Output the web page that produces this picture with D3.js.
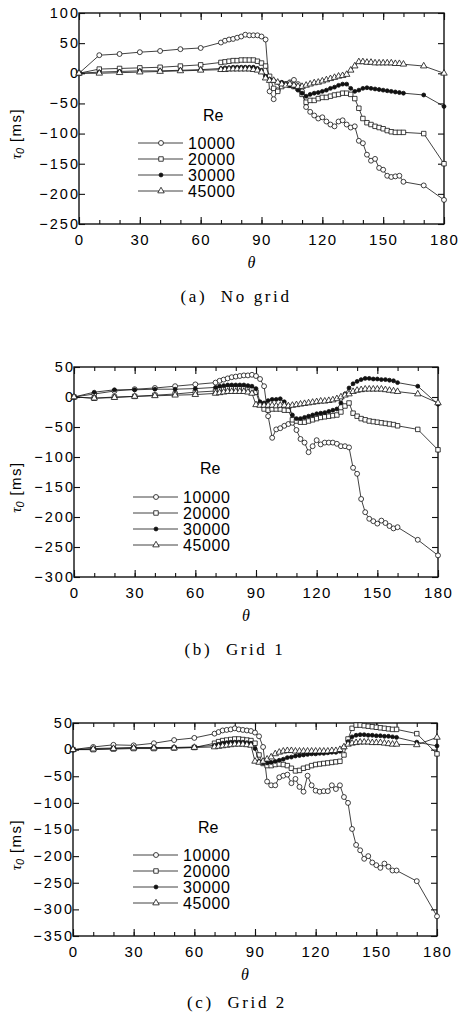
<!DOCTYPE html>
<html>
<head>
<meta charset="utf-8">
<script src="https://cdn.jsdelivr.net/npm/d3@7"></script>
<style>
  body { margin: 0; background: #fff; }
  svg text { font-family: "Liberation Sans", Arial, sans-serif; fill: #000; }
</style>
</head>
<body>
<svg id="fig" width="458" height="1016"></svg>
<script>
// angle (deg) shared by every curve
var theta = [0, 10, 20, 30, 40, 50, 60,
  70, 72, 74, 76, 78, 80, 82, 84, 86, 88,
  90, 92, 94, 96, 98, 100, 102, 104, 106, 108,
  110, 112, 114, 116, 118, 120, 122, 124, 126, 128,
  130, 132, 134, 136, 138, 140, 142, 144, 146, 148,
  150, 152, 154, 156, 158, 160, 170, 180];

var reLabels = ["10000", "20000", "30000", "45000"];

// (a) No grid
var noGrid10000 = [0, 30, 32, 35, 37, 40, 42,
  51, 54, 56, 57, 59, 61, 64, 63, 63, 63,
  61, 56, -30, -43, -28, -20, -18, -15, -11, -18,
  -30, -56, -64, -70, -75, -73, -80, -85, -88, -80,
  -78, -85, -90, -88, -112, -116, -135, -145, -142, -157,
  -160, -170, -172, -171, -170, -180, -186, -210];
var noGrid20000 = [0, 7, 8, 9, 10, 12, 14,
  18, 19, 20, 21, 21, 22, 22, 22, 22, 20,
  17, 12, -5, -25, -30, -22, -18, -20, -22, -25,
  -35, -48, -45, -45, -42, -40, -40, -38, -36, -35,
  -33, -33, -35, -42, -58, -75, -82, -85, -88, -90,
  -92, -95, -97, -98, -98, -98, -100, -150];
var noGrid30000 = [0, 2, 3, 4, 4, 5, 6,
  8, 9, 9, 10, 10, 10, 10, 10, 10, 8,
  5, -5, -10, -12, -15, -15, -18, -20, -22, -28,
  -33, -38, -35, -33, -32, -30, -28, -25, -23, -20,
  -18, -18, -25, -30, -28, -25, -24, -25, -26, -27,
  -28, -29, -30, -31, -32, -33, -36, -55];
var noGrid45000 = [0, 0, 1, 2, 3, 4, 5,
  6, 6, 7, 7, 7, 7, 7, 7, 6, 5,
  2, -8, -12, -12, -15, -18, -20, -18, -20, -22,
  -22, -20, -18, -16, -15, -13, -11, -9, -7, -5,
  -4, -2, 5, 12, 19, 19, 18, 18, 17, 17,
  17, 17, 17, 16, 16, 15, 12, 0];

// (b) Grid 1
var grid1_10000 = [0, 5, 10, 13, 15, 18, 21,
  24, 27, 29, 31, 33, 34, 35, 36, 36, 37,
  35, 30, 18, -32, -68, -54, -52, -48, -45, -43,
  -55, -70, -76, -92, -82, -72, -79, -76, -76, -76,
  -78, -82, -82, -84, -118, -128, -170, -192, -203, -207,
  -211, -206, -210, -215, -219, -217, -238, -264];
var grid1_20000 = [0, -2, 0, 1, 3, 5, 8,
  10, 12, 13, 14, 14, 14, 14, 14, 13, 12,
  8, -12, -20, -22, -20, -20, -20, -22, -22, -38,
  -40, -42, -42, -40, -38, -36, -34, -33, -32, -31,
  -30, -25, -15, -10, -27, -32, -36, -38, -40, -41,
  -42, -43, -44, -45, -46, -48, -54, -88];
var grid1_30000 = [0, 8, 12, 12, 13, 13, 14,
  16, 18, 19, 20, 20, 20, 20, 20, 19, 18,
  14, -8, -10, -6, -4, -4, -3, -8, -15, -30,
  -36, -36, -34, -32, -30, -28, -27, -26, -24, -22,
  -20, -10, 5, 15, 22, 26, 29, 31, 31, 30,
  30, 29, 29, 28, 27, 24, 18, -12];
var grid1_45000 = [0, -2, -1, 1, 2, 3, 4,
  6, 7, 8, 9, 9, 9, 9, 9, 8, 6,
  -13, -14, -14, -14, -14, -15, -14, -14, -15, -14,
  -13, -12, -11, -10, -9, -8, -7, -7, -6, -5,
  -3, 0, 3, 5, 9, 11, 12, 13, 13, 13,
  13, 13, 12, 11, 10, 9, 5, -10];

// (c) Grid 2
var grid2_10000 = [0, 5, 9, 8, 12, 18, 22,
  30, 33, 36, 37, 38, 40, 38, 37, 36, 35,
  32, 25, 5, -60, -67, -67, -52, -49, -47, -63,
  -55, -70, -79, -49, -67, -77, -79, -78, -78, -67,
  -74, -67, -89, -100, -149, -179, -189, -205, -200, -212,
  -217, -222, -214, -220, -227, -227, -247, -313];
var grid2_20000 = [0, 0, 1, 2, 2, 3, 4,
  12, 15, 17, 18, 19, 20, 20, 19, 18, 17,
  12, -10, -26, -30, -30, -28, -27, -28, -30, -35,
  -40, -39, -35, -33, -30, -28, -27, -26, -25, -24,
  -23, -22, -10, 20, 40, 46, 46, 45, 44, 43,
  42, 41, 40, 39, 38, 38, 30, -8];
var grid2_30000 = [0, 2, 3, 4, 4, 4, 5,
  8, 10, 12, 13, 14, 14, 14, 14, 13, 12,
  2, -22, -25, -25, -24, -22, -20, -18, -15, -14,
  -12, -11, -10, -9, -8, -8, -7, -7, -6, -5,
  -5, -3, 5, 15, 24, 27, 28, 28, 27, 27,
  26, 26, 25, 25, 24, 23, 14, 7];
var grid2_45000 = [0, 1, 2, 3, 3, 3, 4,
  5, 6, 7, 8, 9, 10, 10, 10, 9, 8,
  -22, -24, -22, -18, -14, -8, -5, -3, -2, -2,
  -3, -3, -3, -3, -3, -3, -3, -3, -3, -2,
  -2, 0, 5, 10, 12, 13, 14, 14, 14, 13,
  13, 13, 12, 11, 10, 10, 9, 23];

// layout of the three stacked panels
var panels = [
  { caption: "(a)  No grid", series: [noGrid10000, noGrid20000, noGrid30000, noGrid45000],
    yDomain: [-250, 100], left: 79, right: 444, top: 13, bottom: 224,
    reX: 203, reY: 121, legX: 138, legY: 143, capX: 236, capY: 302 },
  { caption: "(b)  Grid 1", series: [grid1_10000, grid1_20000, grid1_30000, grid1_45000],
    yDomain: [-300, 50], left: 74, right: 438, top: 367, bottom: 577,
    reX: 200, reY: 474, legX: 133, legY: 497, capX: 235, capY: 655 },
  { caption: "(c)  Grid 2", series: [grid2_10000, grid2_20000, grid2_30000, grid2_45000],
    yDomain: [-350, 50], left: 73, right: 437, top: 723, bottom: 936,
    reX: 198, reY: 833, legX: 133, legY: 855, capX: 237, capY: 1008 }
];

// marker per Reynolds number: open circle, open square, filled dot, open triangle
var markers = [
  { type: d3.symbolCircle, size: 19, fill: "#fff" },
  { type: d3.symbolSquare, size: 20, fill: "#fff" },
  { type: d3.symbolCircle, size: 12, fill: "#111" },
  { type: d3.symbolTriangle, size: 18, fill: "#fff" }
];

var svg = d3.select("#fig");
svg.append("rect").attr("width", 458).attr("height", 1016).attr("fill", "#fff");

panels.forEach(function(p) {
  var x = d3.scaleLinear().domain([0, 180]).range([p.left, p.right]);
  var y = d3.scaleLinear().domain(p.yDomain).range([p.bottom, p.top]);
  var g = svg.append("g");
  var yTicks = d3.range(p.yDomain[0], p.yDomain[1] + 1, 50);

  function style(sel) {
    sel.select(".domain").remove();
    sel.selectAll("line").attr("stroke", "#111").attr("stroke-width", 1.1);
    sel.selectAll("text").attr("font-size", 15).attr("letter-spacing", 2).attr("fill", "#000");
  }

  // minor x ticks
  g.append("g").attr("transform", "translate(0," + p.bottom + ")")
    .call(d3.axisBottom(x).tickValues(d3.range(0, 181, 10)).tickSize(-4).tickFormat(""))
    .call(style);
  g.append("g").attr("transform", "translate(0," + p.top + ")")
    .call(d3.axisTop(x).tickValues(d3.range(0, 181, 10)).tickSize(-4).tickFormat(""))
    .call(style);
  // major x ticks with labels
  g.append("g").attr("transform", "translate(0," + p.bottom + ")")
    .call(d3.axisBottom(x).tickValues(d3.range(0, 181, 30)).tickSize(-7).tickPadding(10))
    .call(style)
    .selectAll("text").attr("letter-spacing", 1.4);
  g.append("g").attr("transform", "translate(0," + p.top + ")")
    .call(d3.axisTop(x).tickValues(d3.range(0, 181, 30)).tickSize(-7).tickFormat(""))
    .call(style);
  // y ticks
  g.append("g").attr("transform", "translate(" + p.left + ",0)")
    .call(d3.axisLeft(y).tickValues(yTicks).tickSize(-6).tickPadding(-1))
    .call(style)
    .selectAll("text").attr("font-size", 14.5).attr("dy", "0.3em");
  g.append("g").attr("transform", "translate(" + p.right + ",0)")
    .call(d3.axisRight(y).tickValues(yTicks).tickSize(-6).tickFormat(""))
    .call(style);

  g.append("rect")
    .attr("x", p.left).attr("y", p.top)
    .attr("width", p.right - p.left).attr("height", p.bottom - p.top)
    .attr("fill", "none").attr("stroke", "#111").attr("stroke-width", 1.4);

  var line = d3.line()
    .x(function(d, i) { return x(theta[i]); })
    .y(function(d) { return y(d); });

  p.series.forEach(function(vals, k) {
    g.append("path").datum(vals)
      .attr("d", line)
      .attr("fill", "none").attr("stroke", "#111").attr("stroke-width", 0.8);
    g.append("g").selectAll("path")
      .data(vals)
      .enter().append("path")
      .attr("transform", function(d, i) { return "translate(" + x(theta[i]) + "," + y(d) + ")"; })
      .attr("d", d3.symbol().type(markers[k].type).size(markers[k].size))
      .attr("fill", markers[k].fill).attr("stroke", "#111").attr("stroke-width", 0.8);
  });

  // legend
  g.append("text").attr("x", p.reX).attr("y", p.reY)
    .attr("font-size", 16).text("Re");
  reLabels.forEach(function(lab, k) {
    var ly = p.legY + k * 16;
    g.append("line")
      .attr("x1", p.legX).attr("x2", p.legX + 45)
      .attr("y1", ly).attr("y2", ly)
      .attr("stroke", "#111").attr("stroke-width", 0.8);
    g.append("path")
      .attr("transform", "translate(" + (p.legX + 23) + "," + ly + ")")
      .attr("d", d3.symbol().type(markers[k].type).size(markers[k].size))
      .attr("fill", markers[k].fill).attr("stroke", "#111").attr("stroke-width", 0.8);
    g.append("text")
      .attr("x", p.legX + 50).attr("y", ly + 6)
      .attr("font-size", 16).attr("letter-spacing", 0.6)
      .text(lab);
  });

  // axis titles
  g.append("text")
    .attr("x", (p.left + p.right) / 2 - 10).attr("y", p.bottom + 44)
    .attr("text-anchor", "middle")
    .style("font-family", "'Liberation Serif', 'Times New Roman', serif")
    .style("font-style", "italic")
    .attr("font-size", 16).text("θ");

  var yt = g.append("text")
    .attr("transform", "translate(21," + ((p.top + p.bottom) / 2 + 15) + ") rotate(-90)")
    .attr("text-anchor", "middle").attr("font-size", 15);
  yt.append("tspan")
    .style("font-family", "'Liberation Serif', 'Times New Roman', serif")
    .style("font-style", "italic").text("τ");
  yt.append("tspan").attr("dy", 3).attr("font-size", 11)
    .style("font-style", "italic").text("0");
  yt.append("tspan").attr("dy", -3).attr("letter-spacing", 1.5).text(" [ms]");

  g.append("text")
    .attr("x", p.capX).attr("y", p.capY)
    .attr("text-anchor", "middle")
    .style("font-family", "'Liberation Serif', 'Times New Roman', serif")
    .style("white-space", "pre")
    .attr("font-size", 17).attr("letter-spacing", 2.6)
    .text(p.caption);
});
</script>
</body>
</html>
